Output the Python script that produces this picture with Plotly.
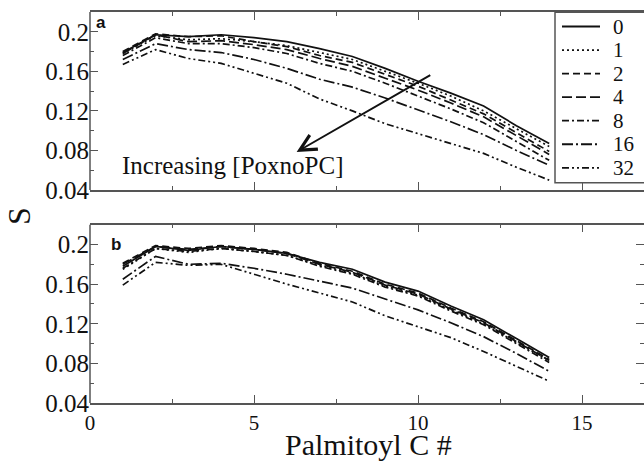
import plotly.graph_objects as go

carbons = list(range(1, 15))
conc_labels = ["0", "1", "2", "4", "8", "16", "32"]

# Panel a
a_0 = [0.179, 0.197, 0.195, 0.197, 0.194, 0.190, 0.183, 0.175, 0.163, 0.150, 0.138, 0.125, 0.105, 0.087]
a_1 = [0.178, 0.196, 0.192, 0.193, 0.190, 0.186, 0.179, 0.172, 0.160, 0.148, 0.135, 0.120, 0.102, 0.084]
a_2 = [0.180, 0.198, 0.195, 0.196, 0.190, 0.185, 0.176, 0.169, 0.157, 0.145, 0.131, 0.117, 0.098, 0.079]
a_4 = [0.178, 0.197, 0.190, 0.191, 0.187, 0.182, 0.173, 0.165, 0.153, 0.141, 0.128, 0.114, 0.095, 0.076]
a_8 = [0.176, 0.194, 0.188, 0.188, 0.184, 0.178, 0.168, 0.160, 0.148, 0.135, 0.122, 0.108, 0.089, 0.070]
a_16 = [0.172, 0.188, 0.182, 0.179, 0.172, 0.163, 0.152, 0.144, 0.133, 0.121, 0.109, 0.096, 0.080, 0.065]
a_32 = [0.167, 0.182, 0.173, 0.168, 0.158, 0.148, 0.132, 0.120, 0.107, 0.097, 0.087, 0.077, 0.063, 0.050]

# Panel b
b_0 = [0.178, 0.198, 0.194, 0.198, 0.195, 0.191, 0.182, 0.175, 0.162, 0.153, 0.138, 0.124, 0.105, 0.086]
b_1 = [0.175, 0.196, 0.192, 0.196, 0.193, 0.189, 0.179, 0.171, 0.158, 0.149, 0.134, 0.120, 0.101, 0.083]
b_2 = [0.181, 0.199, 0.196, 0.199, 0.196, 0.192, 0.181, 0.173, 0.160, 0.151, 0.136, 0.122, 0.103, 0.084]
b_4 = [0.180, 0.198, 0.195, 0.198, 0.195, 0.191, 0.180, 0.172, 0.159, 0.150, 0.135, 0.121, 0.102, 0.083]
b_8 = [0.176, 0.196, 0.193, 0.196, 0.193, 0.189, 0.178, 0.170, 0.157, 0.148, 0.133, 0.119, 0.100, 0.081]
b_16 = [0.165, 0.188, 0.180, 0.181, 0.176, 0.170, 0.163, 0.156, 0.145, 0.134, 0.121, 0.107, 0.090, 0.072]
b_32 = [0.159, 0.182, 0.179, 0.180, 0.170, 0.160, 0.151, 0.142, 0.128, 0.117, 0.106, 0.092, 0.077, 0.062]

panel_a = [a_0, a_1, a_2, a_4, a_8, a_16, a_32]
panel_b = [b_0, b_1, b_2, b_4, b_8, b_16, b_32]

dashes = ["solid", "2px,3px", "7px,4px", "10px,4px", "7px,3px,2px,3px",
          "11px,3px,2px,3px", "7px,3px,2px,3px,2px,3px"]

W, H = 644, 462
ML, MR, MT, MB = 90, 0, 12, 59
PW, PH = W - ML - MR, H - MT - MB
SERIF = "Liberation Serif"
SANS = "Liberation Sans"
INK = "#111111"


def px2paper(px, py):
    return (px - ML) / PW, (H - MB - py) / PH


fig = go.Figure()
for vals, lab, d in zip(panel_a, conc_labels, dashes):
    fig.add_trace(go.Scatter(x=carbons, y=vals, mode="lines", name=lab,
                             line=dict(color=INK, width=1.7, dash=d),
                             xaxis="x", yaxis="y", showlegend=False))
for vals, lab, d in zip(panel_b, conc_labels, dashes):
    fig.add_trace(go.Scatter(x=carbons, y=vals, mode="lines", name=lab,
                             line=dict(color=INK, width=1.7, dash=d),
                             xaxis="x2", yaxis="y2", showlegend=False))

xr = [0, PW / 32.8]
frame = "#555555"
common_x = dict(range=xr, showline=True, linecolor=frame, linewidth=1.5, mirror="ticks",
                ticks="inside", ticklen=8, tickwidth=1.2, tickcolor=frame,
                dtick=5, tick0=0, showgrid=False, zeroline=False,
                minor=dict(dtick=2.5, ticks="inside", ticklen=4, tickcolor=frame, tickwidth=1.2))
common_y = dict(range=[0.04, 0.22], showline=False, mirror="ticks",
                ticks="inside", ticklen=8, tickwidth=1.2, tickcolor=frame,
                tickvals=[0.04, 0.08, 0.12, 0.16, 0.2],
                ticktext=["0.04", "0.08", "0.12", "0.16", "0.2"],
                showgrid=False, zeroline=False,
                tickfont=dict(family=SERIF, size=25, color=INK),
                minor=dict(tickvals=[0.06, 0.1, 0.14, 0.18], ticks="inside", ticklen=4,
                           tickcolor=frame, tickwidth=1.2))

ya_lo = (H - MB - 190) / PH
yb_hi = (H - MB - 224.7) / PH

fig.update_layout(
    width=W, height=H,
    margin=dict(l=ML, r=MR, t=MT, b=MB),
    paper_bgcolor="white", plot_bgcolor="white",
    showlegend=False,
    xaxis=dict(common_x, domain=[0, 1], anchor="y", showticklabels=False),
    yaxis=dict(common_y, domain=[ya_lo, 1], anchor="x"),
    xaxis2=dict(common_x, domain=[0, 1], anchor="y2", showticklabels=True,
                tickfont=dict(family=SERIF, size=21, color=INK)),
    yaxis2=dict(common_y, domain=[0, yb_hi], anchor="x2"),
)

shapes = []
annotations = []

# Left frame lines (right frame lies beyond the visible area)
for xref, yref in (("x domain", "y domain"), ("x2 domain", "y2 domain")):
    shapes.append(dict(type="line", xref=xref, yref=yref, x0=0, x1=0, y0=0, y1=1,
                       line=dict(color=frame, width=1.5), layer="above"))

# Legend box (panel a, top right)
lx0, ly0 = px2paper(555, 182.7)
lx1, ly1 = px2paper(660, 12.3)
shapes.append(dict(type="rect", xref="paper", yref="paper", x0=lx0, y0=ly0, x1=lx1, y1=ly1,
                   line=dict(color=frame, width=1.5), fillcolor="white", layer="above"))
for i, (lab, d) in enumerate(zip(conc_labels, dashes)):
    cy = 26.5 + i * 23.55
    sx0, sy = px2paper(562, cy)
    sx1, _ = px2paper(600, cy)
    shapes.append(dict(type="line", xref="paper", yref="paper", x0=sx0, x1=sx1, y0=sy, y1=sy,
                       line=dict(color=INK, width=1.8, dash=d), layer="above"))
    tx, ty = px2paper(611, cy)
    annotations.append(dict(xref="paper", yref="paper", x=tx, y=ty, text=lab, showarrow=False,
                            xanchor="left", yanchor="middle",
                            font=dict(family=SERIF, size=21, color=INK)))

# Arrow and its label
annotations.append(dict(xref="x", yref="y", axref="x", ayref="y",
                        x=6.3, y=0.0785, ax=10.42, ay=0.157, text="", showarrow=True,
                        arrowhead=5, arrowsize=1.6, arrowwidth=2, arrowcolor=INK))
annotations.append(dict(xref="x", yref="y", x=4.36, y=0.065, text="Increasing [PoxnoPC]",
                        showarrow=False, xanchor="center", yanchor="middle",
                        font=dict(family=SERIF, size=25, color=INK)))

# Panel letters
pa_x, pa_y = px2paper(101, 22)
annotations.append(dict(xref="paper", yref="paper", x=pa_x, y=pa_y, text="<b>a</b>", showarrow=False,
                        xanchor="center", yanchor="middle",
                        font=dict(family=SANS, size=17, color=INK)))
pb_x, pb_y = px2paper(116, 244)
annotations.append(dict(xref="paper", yref="paper", x=pb_x, y=pb_y, text="<b>b</b>", showarrow=False,
                        xanchor="center", yanchor="middle",
                        font=dict(family=SANS, size=17, color=INK)))

# X axis title
tx, ty = px2paper(368, 462)
annotations.append(dict(xref="paper", yref="paper", x=tx, y=ty, text="Palmitoyl C #", showarrow=False,
                        xanchor="center", yanchor="bottom", borderpad=0,
                        font=dict(family=SERIF, size=30, color=INK)))

# Shared y title
sx, sy = px2paper(19, 216)
annotations.append(dict(xref="paper", yref="paper", x=sx, y=sy, text="S", showarrow=False,
                        textangle=-90, xanchor="center", yanchor="middle",
                        font=dict(family=SERIF, size=32, color=INK)))

fig.update_layout(shapes=shapes, annotations=annotations)
fig.write_html("out.html")
